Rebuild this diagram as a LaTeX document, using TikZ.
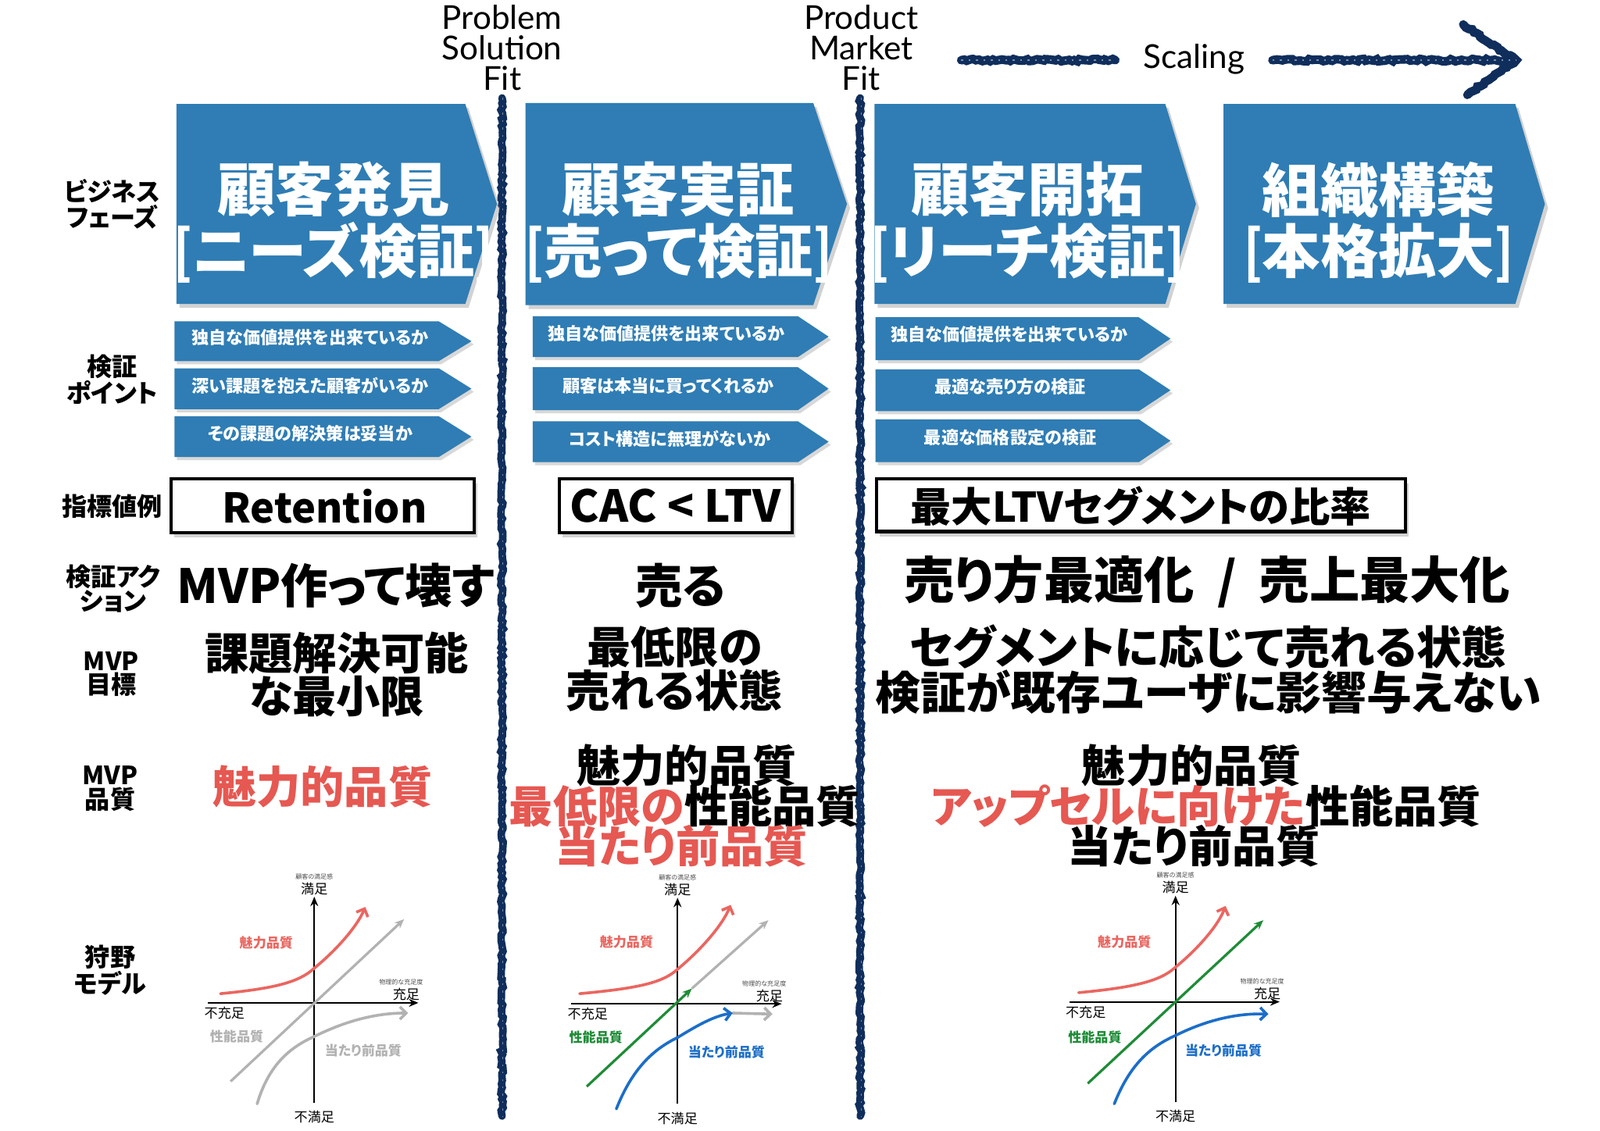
\documentclass[tikz,border=0pt]{standalone}
\usepackage{fontspec}
\setmainfont{Noto Sans CJK JP}
\newfontfamily\jpp{Noto Sans CJK JP}[RawFeature=+palt]
\newfontfamily\lat{Lato}
\usetikzlibrary{shadows,arrows.meta,decorations.pathmorphing}
\definecolor{phase}{RGB}{47,125,180}
\definecolor{navy}{RGB}{16,46,92}
\definecolor{jred}{RGB}{230,88,82}
\definecolor{kred}{RGB}{234,102,96}
\definecolor{kgray}{RGB}{178,178,178}
\definecolor{kgreen}{RGB}{30,140,55}
\definecolor{kblue}{RGB}{28,110,200}
\tikzset{
  phasebox/.style={fill=phase, drop shadow={shadow xshift=2pt,shadow yshift=-2.5pt,opacity=0.35}},
  ptbox/.style={fill=phase, drop shadow={shadow xshift=1.5pt,shadow yshift=-2pt,opacity=0.3}},
  phasetxt/.style={text=white, font=\jpp\bfseries\fontsize{37}{39}\selectfont, align=center, inner sep=0pt},
  pttxt/.style={text=white, font=\jpp\bfseries\fontsize{11}{13}\selectfont, inner sep=0pt},
  rowlab/.style={font=\jpp\bfseries\fontsize{16}{15}\selectfont, align=center, inner sep=0pt},
  toplab/.style={font=\lat\fontsize{21}{19.5}\selectfont, align=center, inner sep=0pt},
  metricbox/.style={draw=black, line width=2pt, fill=white, drop shadow={shadow xshift=2pt,shadow yshift=-3pt,opacity=0.35}},
  metric/.style={font=\jpp\bfseries\fontsize{28}{30}\selectfont, inner sep=0pt},
  bigtxt/.style={font=\jpp\bfseries\fontsize{30}{32}\selectfont, align=center, inner sep=0pt},
  midtxt/.style={font=\jpp\bfseries\fontsize{28}{25.5}\selectfont, align=center, inner sep=0pt},
  chalk/.style={draw=navy, line width=4.8pt, line cap=round, decorate, decoration={random steps, segment length=2pt, amplitude=0.8pt}},
  chalkfleck/.style={draw=white, opacity=0.45, line width=0.6pt, dash pattern=on 1.2pt off 3.5pt},
  kaxis/.style={draw=black, line width=1.1pt, -{Stealth[length=6pt,width=5pt]}},
  kcurve/.style={line width=1.8pt, line cap=round, -{Straight Barb[length=4pt,width=8pt]}},
  kline/.style={line width=1.6pt, -{Stealth[length=6pt,width=5pt]}},
  klab/.style={font=\jpp\bfseries\fontsize{8.5}{9}\selectfont, inner sep=0pt},
  kax/.style={font=\jpp\fontsize{8.5}{9}\selectfont, inner sep=0pt},
  ktiny/.style={font=\jpp\fontsize{4}{4.5}\selectfont, text=black!70, inner sep=0pt},
}
% chevron: style, left, top, right, tip, bottom
\newcommand\chev[6]{\fill[#1] (#2,#3) -- (#4,#3) -- (#5,{(#3+#6)/2}) -- (#4,#6) -- (#2,#6) -- cycle;}
% kano axes and labels: prefix, x, y
\newcommand\kanoaxes[3]{%
  \begin{scope}[shift={(#2,#3)}]
  \draw[kaxis] (0,98) -- (0,-104);
  \draw[kaxis] (-104,0) -- (102,0);
  \node[ktiny] (#1t) at (0,-124) {顧客の満足感};
  \node[kax] (#1s) at (0,-112) {満足};
  \node[kax] (#1u) at (0,112) {不満足};
  \node[kax] (#1n) at (-88,10) {不充足};
  \node[ktiny] (#1p) at (85,-20) {物理的な充足度};
  \node[kax] (#1f) at (90,-8) {充足};
  \end{scope}}
\begin{document}
\begin{tikzpicture}[x=0.65pt,y=-0.65pt]
\useasboundingbox (0,0) rectangle (1568,1108);
\fill[white] (0,0) rectangle (1568,1108);

% top labels
\node[toplab] (psf) at (492,47) {Problem\\Solution\\Fit};
\node[toplab] (pmf) at (844,47) {Product\\Market\\Fit};
\node[toplab] (scal) at (1170,58) {Scaling};
\coordinate (sa1) at (942,59);
\coordinate (sa2) at (1093,59);
\coordinate (sb1) at (1247,59);
\coordinate (sb2) at (1486,59);
\begin{scope}[chalk/.append style={line width=5.5pt}]
\draw[chalk] (sa1) -- (sa2);
\draw[chalk] (sb1) -- (sb2);
\draw[chalk] (1434,24) -- (sb2) -- (1438,93);
\end{scope}
\draw[chalkfleck] (sa1) -- (sa2);
\draw[chalkfleck] (sb1) -- (sb2);

% vertical chalk lines
\coordinate (v1t) at (492,96);
\coordinate (v1b) at (492,1094);
\coordinate (v2t) at (843,96);
\coordinate (v2b) at (843,1094);
\draw[chalk] (v1t) -- (v1b);
\draw[chalk] (v2t) -- (v2b);
\draw[chalkfleck] ([xshift=0.6pt]v1t) -- ([xshift=0.6pt]v1b);
\draw[chalkfleck] ([xshift=0.6pt]v2t) -- ([xshift=0.6pt]v2b);

% row labels
\node[rowlab] (l1) at (110,200) {ビジネス\\フェーズ};
\node[rowlab] (l2) at (110,372) {検証\\ポイント};
\node[rowlab] (l3) at (110,496) {指標値例};
\node[rowlab] (l4) at (111,577) {検証アク\\ション};
\node[rowlab] (l5) at (109,661) {MVP\\目標};
\node[rowlab] (l6) at (108,773) {MVP\\品質};
\node[rowlab] (l7) at (108,951) {狩野\\モデル};

% phase chevrons
\chev{phasebox}{173}{102}{456}{487}{298}
\chev{phasebox}{515}{101}{797}{830}{299}
\chev{phasebox}{857}{102}{1142}{1172}{298}
\chev{phasebox}{1199}{102}{1485}{1514}{298}
\newcommand\lb{\scalebox{0.8}[1]{[}}
\newcommand\rb{\scalebox{0.8}[1]{]}}
\node[phasetxt] (ph1) at (327,218) {顧客発見\\\lb ニーズ検証\rb};
\node[phasetxt] (ph2) at (665,218) {顧客実証\\\lb 売って検証\rb};
\node[phasetxt] (ph3) at (1007,218) {顧客開拓\\\lb リーチ検証\rb};
\node[phasetxt] (ph4) at (1351,218) {組織構築\\\lb 本格拡大\rb};

% verification point chevrons
\chev{ptbox}{171}{315}{430}{462}{354}
\chev{ptbox}{171}{361}{430}{462}{401}
\chev{ptbox}{171}{408}{430}{462}{448}
\chev{ptbox}{522}{310}{782}{812}{350}
\chev{ptbox}{522}{360}{782}{812}{402}
\chev{ptbox}{522}{413}{782}{812}{453}
\chev{ptbox}{858}{311}{1116}{1147}{353}
\chev{ptbox}{858}{362}{1116}{1147}{403}
\chev{ptbox}{858}{411}{1116}{1147}{453}
\node[pttxt] (c1a) at (304,331) {独自な価値提供を出来ているか};
\node[pttxt] (c1b) at (304,378) {深い課題を抱えた顧客がいるか};
\node[pttxt] (c1c) at (304,425) {その課題の解決策は妥当か};
\node[pttxt] (c2a) at (653,327) {独自な価値提供を出来ているか};
\node[pttxt] (c2b) at (655,378) {顧客は本当に買ってくれるか};
\node[pttxt] (c2c) at (656,430) {コスト構造に無理がないか};
\node[pttxt] (c3a) at (989,328) {独自な価値提供を出来ているか};
\node[pttxt] (c3b) at (990,379) {最適な売り方の検証};
\node[pttxt] (c3c) at (990,429) {最適な価格設定の検証};

% metric boxes
\path[metricbox] (168,469) rectangle (465,522);
\path[metricbox] (548,469) rectangle (776,522);
\path[metricbox] (859,469) rectangle (1377,521);
\node[metric,font=\jpp\bfseries\fontsize{26}{28}\selectfont] (m1) at (318,496) {Retention};
\node[metric] (m2) at (662,496) {CAC < LTV};
\node[metric,font=\jpp\bfseries\fontsize{26}{28}\selectfont] (m3) at (1118,496) {最大LTVセグメントの比率};

% actions
\node[bigtxt] (a1) at (329,574) {MVP作って壊す};
\node[bigtxt] (a2) at (667,574) {売る};
\node[bigtxt,font=\jpp\bfseries\fontsize{32}{34}\selectfont] (a3) at (1183,570) {売り方最適化\hspace{0.45em}/\hspace{0.45em}売上最大化};

% MVP goals
\node[midtxt] (g1) at (330,661) {課題解決可能\\な最小限};
\node[midtxt] (g2) at (661,656) {最低限の\\売れる状態};
\node[midtxt,font=\jpp\bfseries\fontsize{28.8}{25.5}\selectfont] (g3) at (1184,656) {セグメントに応じて売れる状態\\検証が既存ユーザに影響与えない};

% MVP quality
\node[midtxt,text=jred] (q1) at (316,771) {魅力的品質};
\node[midtxt] (q2a) at (673,750) {魅力的品質};
\node[midtxt] (q2b) at (671,790) {\textcolor{jred}{最低限の}性能品質};
\node[midtxt,text=jred] (q2c) at (668,829) {当たり前品質};
\node[midtxt] (q3a) at (1168,750) {魅力的品質};
\node[midtxt] (q3b) at (1182,790) {\textcolor{jred}{アップセルに向けた}性能品質};
\node[midtxt] (q3c) at (1170,829) {当たり前品質};

% Kano model 1
\kanoaxes{ka}{308}{983}
\begin{scope}[shift={(308,983)}]
  \draw[kcurve,kred] (-92,-9) .. controls (-40,-14) and (-15,-20) .. (0,-34) .. controls (22,-52) and (42,-75) .. (50,-94);
  \draw[kline,kgray] (-82,77) -- (88,-82);
  \draw[kcurve,kgray] (-56,99) .. controls (-45,62) and (-25,44) .. (0,33) .. controls (30,18) and (60,10) .. (92,10);
  \node[klab,text=kred] (ka1) at (-47,-59) {魅力品質};
  \node[klab,text=kgray] (ka2) at (-76,33) {性能品質};
  \node[klab,text=kgray] (ka3) at (48,47) {当たり前品質};
\end{scope}

% Kano model 2
\kanoaxes{kb}{664}{984}
\begin{scope}[shift={(664,984)}]
  \draw[kcurve,kred] (-96,-10) .. controls (-42,-15) and (-15,-20) .. (0,-34) .. controls (22,-52) and (44,-77) .. (52,-97);
  \coordinate (gmid) at (14,-15);
  \draw[kline,kgray] (gmid) -- (89,-82);
  \draw[kline,kgreen] (-89,81) -- (gmid);
  \coordinate (bmid) at (54,9);
  \draw[kcurve,kgray] (bmid) -- (93,10);
  \draw[kcurve,kblue] (-60,103) .. controls (-45,65) and (-25,45) .. (0,33) .. controls (18,22) and (35,12) .. (bmid);
  \node[klab,text=kred] (kb1) at (-50,-61) {魅力品質};
  \node[klab,text=kgreen] (kb2) at (-80,33) {性能品質};
  \node[klab,text=kblue] (kb3) at (48,47) {当たり前品質};
\end{scope}

% Kano model 3
\kanoaxes{kc}{1152}{982}
\begin{scope}[shift={(1152,982)}]
  \draw[kcurve,kred] (-95,-9) .. controls (-42,-14) and (-15,-20) .. (0,-34) .. controls (22,-52) and (42,-75) .. (49,-94);
  \draw[kline,kgreen] (-86,80) -- (86,-80);
  \draw[kcurve,kblue] (-60,100) .. controls (-45,62) and (-25,44) .. (0,33) .. controls (30,18) and (60,11) .. (91,12);
  \node[klab,text=kred] (kc1) at (-50,-59) {魅力品質};
  \node[klab,text=kgreen] (kc2) at (-79,35) {性能品質};
  \node[klab,text=kblue] (kc3) at (47,48) {当たり前品質};
\end{scope}
\end{tikzpicture}
\end{document}
